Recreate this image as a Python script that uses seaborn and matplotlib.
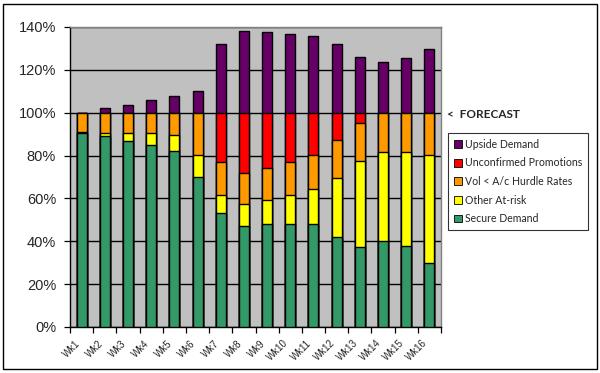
import numpy as np
import pandas as pd
import matplotlib
matplotlib.use("Agg")
import matplotlib.pyplot as plt
import seaborn as sns
from matplotlib.patches import Patch, Rectangle
from matplotlib.ticker import FuncFormatter

weeks = [f"Wk{i}" for i in range(1, 17)]
secure = [90.5, 89, 87, 85, 82, 70, 53, 47, 48, 48, 48, 42, 37.5, 40, 38, 30]
other_at_risk = [0.5, 1.5, 3.7, 5.7, 7.8, 10.3, 8.6, 10.4, 11.2, 13.6, 16.4, 27.7, 39.8, 41.5, 43.5, 50.3]
vol_hurdle = [9, 9.5, 9.3, 9.3, 10.2, 19.7, 15.4, 14.3, 14.8, 15.3, 15.9, 17.4, 18.1, 18.5, 18.5, 19.7]
unconfirmed = [0, 0, 0, 0, 0, 0, 23, 28.3, 26, 23.1, 19.7, 12.9, 4.6, 0, 0, 0]
upside = [0, 2, 3.8, 5.8, 8, 10, 32.2, 38.2, 37.6, 36.8, 35.9, 32, 26.2, 23.6, 25.5, 29.9]

series_names = ["Secure Demand", "Other At-risk", "Vol < A/c Hurdle Rates",
                "Unconfirmed Promotions", "Upside Demand"]
series_vals = [secure, other_at_risk, vol_hurdle, unconfirmed, upside]
colors = ["#339966", "#FFFF00", "#FF9900", "#FF0000", "#660066"]
yticks = [0, 20, 40, 60, 80, 100, 120, 140]

sns.set_theme(style="white")
plt.rcParams["font.family"] = ["Liberation Sans", "DejaVu Sans"]

fig = plt.figure(figsize=(6.0, 3.73), dpi=100)
fig.patch.set_facecolor("white")
ax = fig.add_axes([70/600, 1-327/373, 371/600, 300/373])
ax.set_facecolor("#C0C0C0")

cum = np.cumsum(np.array(series_vals), axis=0)
# draw tallest cumulative first so segments overlap
for k in range(len(series_names) - 1, -1, -1):
    df = pd.DataFrame({"week": weeks, "val": cum[k]})
    sns.barplot(data=df, x="week", y="val", color=colors[k], width=0.43,
                edgecolor="black", linewidth=1.0, saturation=1, ax=ax, zorder=3)

ax.set_xlim(-0.5, 15.5)
ax.set_ylim(0, 140)
ax.set_yticks(yticks)
ax.yaxis.set_major_formatter(FuncFormatter(lambda v, p: f"{int(v)}%"))
ax.grid(axis="y", color="black", linewidth=1.0, zorder=1)
ax.set_axisbelow(True)
ax.set_xlabel("")
ax.set_ylabel("")

ax.set_xticks(np.arange(17) - 0.5)
ax.set_xticklabels([""] * 17)
ax.set_xticks(np.arange(16) - 0.3, minor=True)
ax.set_xticklabels(weeks, minor=True, rotation=45, ha="right", va="top",
                   rotation_mode="anchor", fontsize=7)
ax.tick_params(axis="x", which="major", direction="out", length=4, width=0.9,
               color="black", bottom=True)
ax.tick_params(axis="x", which="minor", length=0, pad=8, bottom=True)
ax.tick_params(axis="y", direction="out", length=4, width=0.9, color="black",
               left=True, labelsize=10.5, pad=6)

for s in ["top", "right"]:
    ax.spines[s].set_color("#808080")
    ax.spines[s].set_linewidth(1.0)
for s in ["left", "bottom"]:
    ax.spines[s].set_color("black")
    ax.spines[s].set_linewidth(1.0)

handles = [Patch(facecolor=colors[k], edgecolor="black", linewidth=0.6,
                 label=series_names[k]) for k in range(len(series_names) - 1, -1, -1)]
leg = fig.legend(handles=handles, loc="upper left", bbox_to_anchor=(448/600, 1-133/373),
                 bbox_transform=fig.transFigure, frameon=True, fancybox=False,
                 prop={"family": "Lato", "size": 7.6}, handlelength=0.75,
                 handleheight=0.75, handletextpad=0.35, labelspacing=0.72,
                 borderpad=0.55, borderaxespad=0)
leg.get_frame().set_edgecolor("black")
leg.get_frame().set_linewidth(0.8)

fig.text(447/600, 1-114/373, "<  FORECAST", fontsize=8.5, fontweight="bold",
         family="Lato", va="center", ha="left")

fig.patches.append(Rectangle((3/600, 4/373), 594/600, 365/373, transform=fig.transFigure,
                             fill=False, edgecolor="black", linewidth=1.0))

fig.savefig("out.png", dpi=100)
